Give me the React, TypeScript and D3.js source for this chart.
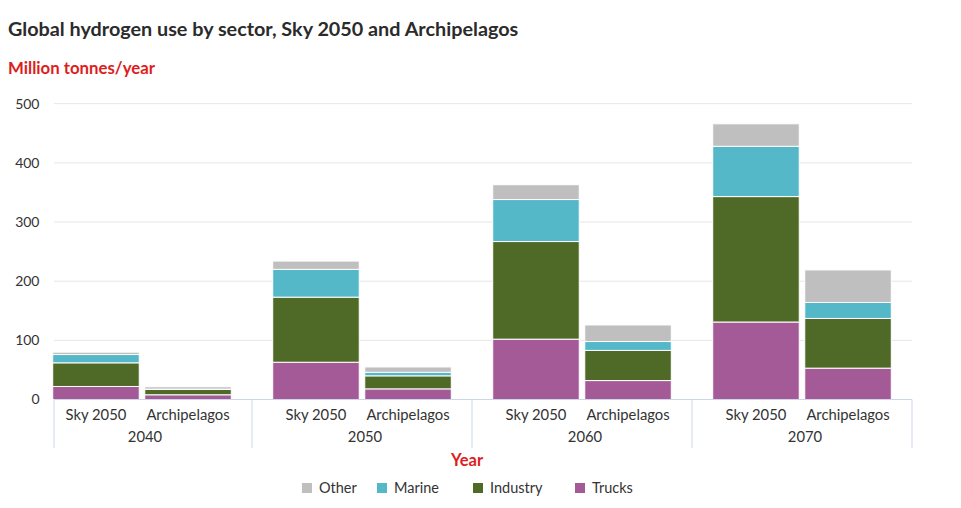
import React from "react";
import * as d3 from "d3";

const years = ["2040", "2050", "2060", "2070"];
const scenarios = ["Sky 2050", "Archipelagos"];
const sectors = ["Trucks", "Industry", "Marine", "Other"];
const legendOrder = ["Other", "Marine", "Industry", "Trucks"];
const sectorColors = ["#a55a98", "#4f6a26", "#55b8c9", "#bfbfbf"];

// values per bar, in order 2040 Sky, 2040 Arch, 2050 Sky, 2050 Arch, ...
const trucks = [22, 8, 63, 18, 102, 32, 131, 53];
const industry = [40, 9, 110, 22, 165, 51, 212, 84];
const marine = [14, 0.5, 47, 6, 71, 15, 85, 27];
const other = [4, 4, 14, 9, 25, 28, 38, 55];
const yTicks = [0, 100, 200, 300, 400, 500];

const W = 961;
const H = 508;
const FONT = "Lato, 'Noto Sans', sans-serif";

export default function App() {
  const plotLeft = 54;
  const plotRight = 912;
  const y = d3.scaleLinear().domain([0, 500]).range([399.5, 103.7]);
  const xGroup = d3.scaleBand<string>().domain(years).range([32, 912]).padding(0);
  const xSub = d3
    .scaleBand<string>()
    .domain(scenarios)
    .range([0, xGroup.bandwidth()])
    .paddingInner(0.06)
    .paddingOuter(0.225);

  const rows = years.flatMap((yr, gi) =>
    scenarios.map((sc, si) => {
      const i = gi * 2 + si;
      return { year: yr, scenario: sc, Trucks: trucks[i], Industry: industry[i], Marine: marine[i], Other: other[i] };
    })
  );
  const stack = d3.stack<any>().keys(sectors);
  const series = stack(rows);
  const color = d3.scaleOrdinal<string, string>().domain(sectors).range(sectorColors);

  const legendX = [302, 377, 473, 575];

  const dividers = years.map((yr) => Math.max(plotLeft, xGroup(yr)!)).concat([plotRight]);

  return (
    <div style={{ position: "absolute", left: 0, top: 0 }}>
      <svg width={W} height={H} style={{ display: "block", background: "#fff" }}>
        <text x={8} y={36} fontFamily={FONT} fontWeight={700} fontSize={19.8} fill="#2b2b2b">
          Global hydrogen use by sector, Sky 2050 and Archipelagos
        </text>
        <text x={8} y={73.5} fontFamily={FONT} fontWeight={700} fontSize={16.8} fill="#dd1d21">
          Million tonnes/year
        </text>
        {yTicks.map((t) => (
          <g key={t}>
            {t > 0 && (
              <line x1={plotLeft} x2={plotRight} y1={y(t)} y2={y(t)} stroke="#e6e6e6" strokeWidth={1} />
            )}
            <text
              x={39.5}
              y={y(t)}
              dy="0.35em"
              textAnchor="end"
              fontFamily={FONT}
              fontSize={14}
              fill="#333"
            >
              {t}
            </text>
          </g>
        ))}
        {series.map((s) => (
          <g key={s.key} fill={color(s.key)}>
            {s.map((d, i) => {
              const r = rows[i];
              const x0 = xGroup(r.year)! + xSub(r.scenario)!;
              return (
                <rect
                  key={i}
                  x={x0}
                  y={y(d[1])}
                  width={xSub.bandwidth()}
                  height={Math.max(0, y(d[0]) - y(d[1]))}
                  stroke="#fff"
                  strokeWidth={1}
                />
              );
            })}
          </g>
        ))}
        <line x1={plotLeft} x2={plotRight} y1={399.5} y2={399.5} stroke="#ccd6eb" strokeWidth={1} />
        {dividers.map((dx, i) => (
          <line key={i} x1={dx} x2={dx} y1={399.5} y2={448} stroke="#ccd6eb" strokeWidth={1} />
        ))}
        {rows.map((r, i) => (
          <text
            key={i}
            x={xGroup(r.year)! + xSub(r.scenario)! + xSub.bandwidth() / 2}
            y={419.5}
            textAnchor="middle"
            fontFamily={FONT}
            fontSize={14.8}
            fill="#333"
          >
            {r.scenario}
          </text>
        ))}
        {years.map((yr) => (
          <text
            key={yr}
            x={xGroup(yr)! + xGroup.bandwidth() / 2 + 3}
            y={442}
            textAnchor="middle"
            fontFamily={FONT}
            fontSize={14.8}
            fill="#333"
          >
            {yr}
          </text>
        ))}
        <text x={467} y={466} textAnchor="middle" fontFamily={FONT} fontWeight={700} fontSize={16.5} fill="#dd1d21">
          Year
        </text>
        {legendOrder.map((name, i) => (
          <g key={name}>
            <rect x={legendX[i]} y={483} width={10} height={10} fill={color(name)} />
            <text x={legendX[i] + 17} y={493} fontFamily={FONT} fontSize={14.5} fill="#333">
              {name}
            </text>
          </g>
        ))}
      </svg>
    </div>
  );
}
